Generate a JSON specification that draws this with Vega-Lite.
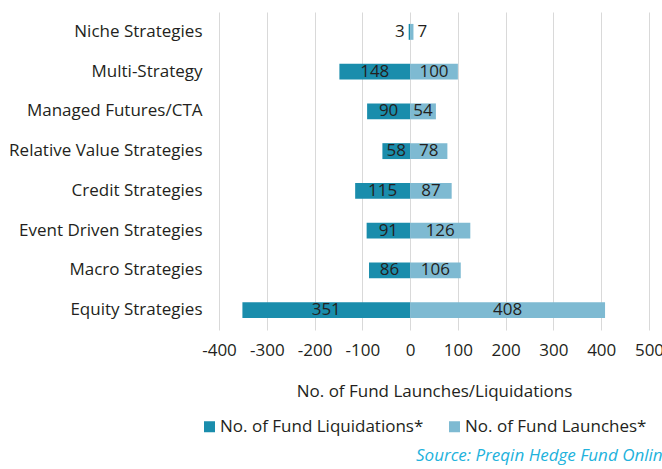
{
  "$schema": "https://vega.github.io/schema/vega-lite/v6.json",
  "width": 430,
  "height": 318,
  "autosize": {"type": "none"},
  "padding": {"left": 219, "top": 12, "right": 13, "bottom": 139},
  "background": "white",
  "config": {
    "view": {"stroke": null},
    "font": "Open Sans",
    "axis": {"labelFont": "Open Sans", "titleFont": "Open Sans", "labelColor": "#231f20", "titleColor": "#231f20"},
    "legend": {"labelFont": "Open Sans"}
  },
  "title": {
    "text": "Source: Preqin Hedge Fund Online",
    "orient": "bottom",
    "anchor": "start",
    "frame": "group",
    "dx": 197,
    "offset": 13,
    "font": "Open Sans",
    "fontSize": 17,
    "fontStyle": "italic",
    "fontWeight": "normal",
    "color": "#22b2dc"
  },
  "data": {
    "values": [
      {"category": "Niche Strategies", "type": "No. of Fund Liquidations*", "value": -3},
      {"category": "Niche Strategies", "type": "No. of Fund Launches*", "value": 7},
      {"category": "Multi-Strategy", "type": "No. of Fund Liquidations*", "value": -148},
      {"category": "Multi-Strategy", "type": "No. of Fund Launches*", "value": 100},
      {"category": "Managed Futures/CTA", "type": "No. of Fund Liquidations*", "value": -90},
      {"category": "Managed Futures/CTA", "type": "No. of Fund Launches*", "value": 54},
      {"category": "Relative Value Strategies", "type": "No. of Fund Liquidations*", "value": -58},
      {"category": "Relative Value Strategies", "type": "No. of Fund Launches*", "value": 78},
      {"category": "Credit Strategies", "type": "No. of Fund Liquidations*", "value": -115},
      {"category": "Credit Strategies", "type": "No. of Fund Launches*", "value": 87},
      {"category": "Event Driven Strategies", "type": "No. of Fund Liquidations*", "value": -91},
      {"category": "Event Driven Strategies", "type": "No. of Fund Launches*", "value": 126},
      {"category": "Macro Strategies", "type": "No. of Fund Liquidations*", "value": -86},
      {"category": "Macro Strategies", "type": "No. of Fund Launches*", "value": 106},
      {"category": "Equity Strategies", "type": "No. of Fund Liquidations*", "value": -351},
      {"category": "Equity Strategies", "type": "No. of Fund Launches*", "value": 408}
    ]
  },
  "transform": [
    {"calculate": "abs(datum.value)", "as": "count"},
    {"calculate": "datum.value / 2", "as": "mid"}
  ],
  "encoding": {
    "y": {
      "field": "category",
      "type": "nominal",
      "sort": null,
      "scale": {"paddingInner": 0.6, "paddingOuter": 0.3},
      "axis": {
        "title": null,
        "domain": false,
        "ticks": false,
        "grid": false,
        "labelFontSize": 17,
        "labelPadding": 17,
        "labelLimit": 300
      }
    }
  },
  "layer": [
    {
      "mark": {"type": "bar"},
      "encoding": {
        "x": {
          "field": "value",
          "type": "quantitative",
          "stack": null,
          "scale": {"domain": [-400, 500], "nice": false, "zero": false},
          "axis": {
            "values": [-400, -300, -200, -100, 0, 100, 200, 300, 400, 500],
            "labelExpr": "datum.value + ''",
            "domain": false,
            "ticks": false,
            "grid": true,
            "gridColor": "#d9d9d9",
            "gridWidth": 1,
            "labelFontSize": 17,
            "labelPadding": 12,
            "labelOverlap": false,
            "labelFlush": false,
            "title": "No. of Fund Launches/Liquidations",
            "titleFontSize": 17,
            "titleFontWeight": "normal",
            "titlePadding": 25
          }
        },
        "color": {
          "field": "type",
          "type": "nominal",
          "scale": {
            "domain": ["No. of Fund Liquidations*", "No. of Fund Launches*"],
            "range": ["#1a8dac", "#7ebad2"]
          },
          "legend": {
            "title": null,
            "orient": "none",
            "direction": "horizontal",
            "legendX": -18,
            "legendY": 406,
            "symbolType": "square",
            "symbolSize": 121,
            "symbolStrokeWidth": 0,
            "labelFontSize": 17,
            "labelColor": "#231f20",
            "labelOffset": 2,
            "columnPadding": 22,
            "labelLimit": 300
          }
        }
      }
    },
    {
      "transform": [{"filter": "datum.count >= 20"}],
      "mark": {"type": "text", "fontSize": 17, "color": "#231f20", "baseline": "middle"},
      "encoding": {
        "x": {"field": "mid", "type": "quantitative"},
        "text": {"field": "count", "type": "quantitative"}
      }
    },
    {
      "transform": [{"filter": "datum.count < 20 && datum.value < 0"}],
      "mark": {"type": "text", "fontSize": 17, "color": "#231f20", "baseline": "middle", "align": "right", "dx": -4},
      "encoding": {
        "x": {"field": "value", "type": "quantitative"},
        "text": {"field": "count", "type": "quantitative"}
      }
    },
    {
      "transform": [{"filter": "datum.count < 20 && datum.value > 0"}],
      "mark": {"type": "text", "fontSize": 17, "color": "#231f20", "baseline": "middle", "align": "left", "dx": 4},
      "encoding": {
        "x": {"field": "value", "type": "quantitative"},
        "text": {"field": "count", "type": "quantitative"}
      }
    }
  ]
}
